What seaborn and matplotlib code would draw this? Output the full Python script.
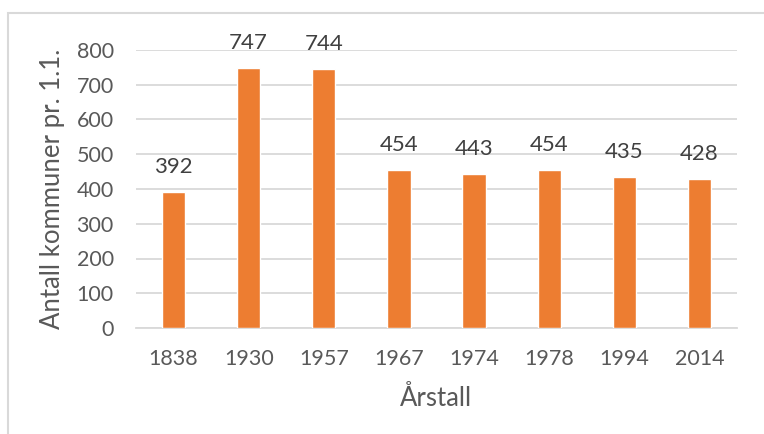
import matplotlib
matplotlib.use("Agg")
import matplotlib.pyplot as plt
from matplotlib.patches import Rectangle
import seaborn as sns
import pandas as pd

years = ["1838", "1930", "1957", "1967", "1974", "1978", "1994", "2014"]
counts = [392, 747, 744, 454, 443, 454, 435, 428]
y_ticks = [0, 100, 200, 300, 400, 500, 600, 700, 800]

sns.set_theme(style="white")
plt.rcParams["font.family"] = ["Lato", "DejaVu Sans"]

text_color = "#595959"
grid_color = "#d9d9d9"
bar_color = "#ED7D31"

df = pd.DataFrame({"Årstall": years, "Antall": counts})

fig = plt.figure(figsize=(7.64, 4.34), dpi=100)
ax = fig.add_axes([136 / 764, 1 - 328 / 434, (737 - 136) / 764, (328 - 50) / 434])

sns.barplot(data=df, x="Årstall", y="Antall", color=bar_color, width=0.31,
            saturation=1, ax=ax, zorder=3)

ax.set_ylim(0, 800)
ax.set_xlim(-0.5, len(years) - 0.5)
ax.set_yticks(y_ticks)
ax.set_yticklabels([str(t) for t in y_ticks])
ax.yaxis.grid(True, color=grid_color, linewidth=1.3, zorder=0)
ax.set_axisbelow(True)
for side in ["top", "right", "left"]:
    ax.spines[side].set_visible(False)
ax.spines["bottom"].set_color(grid_color)
ax.spines["bottom"].set_linewidth(1.3)
ax.tick_params(axis="both", length=0, labelsize=15.5, labelcolor=text_color)
ax.tick_params(axis="x", pad=15)
ax.tick_params(axis="y", pad=16)

ax.set_xlabel("Årstall", fontsize=18.5, color=text_color, labelpad=12)
ax.set_ylabel("Antall kommuner pr. 1.1.", fontsize=18.5, color=text_color, labelpad=8)

for container in ax.containers:
    ax.bar_label(container, labels=[str(v) for v in counts], padding=11,
                 fontsize=16, color="#404040")

# Light chart-area frame
fig.add_artist(Rectangle((8 / 764, -0.1), 1.1, 1 - 13 / 434 + 0.1,
                         transform=fig.transFigure, fill=False,
                         edgecolor=grid_color, linewidth=1.5))

fig.savefig("out.png", dpi=100)
